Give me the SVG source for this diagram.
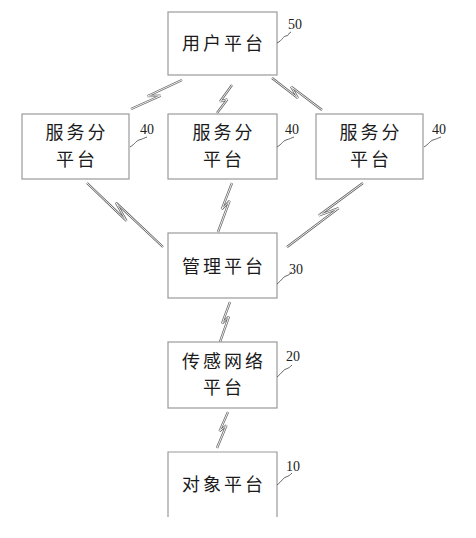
<svg xmlns="http://www.w3.org/2000/svg" width="476" height="538" viewBox="0 0 476 538">
<defs>
<style>
.box{fill:#fff;stroke:#9a9a9a;stroke-width:1.2}
.t{font-family:"Noto Sans CJK SC","Noto Sans CJK JP",serif;font-size:18px;fill:#1a1a1a;text-anchor:middle;letter-spacing:3px}
.n{font-family:"Liberation Serif",serif;font-size:14px;fill:#222}
.lead{fill:none;stroke:#555;stroke-width:0.9}
.bo{fill:none;stroke:#666;stroke-width:2.3;stroke-linejoin:miter;stroke-miterlimit:3}
.bi{fill:none;stroke:#fff;stroke-width:0.9;stroke-linejoin:miter;stroke-miterlimit:3}
</style>
<path id="z1" d="M131 109 L160.5 95.7 L147.4 96.2 L182 80"/>
<path id="z2" d="M217 113 L227.4 99.3 L220.1 101.5 L232 85"/>
<path id="z3" d="M272 78 L297.9 98.1 L291.1 86.7 L322 110"/>
<path id="z4" d="M87 183 L126.5 220.9 L115.9 202.7 L163 247"/>
<path id="z5" d="M232 183 L221.8 209.2 L229.6 200.9 L218 232"/>
<path id="z6" d="M363 183 L318.9 215.5 L338.7 208.1 L287 247"/>
<path id="z7" d="M230 302 L222.1 323.4 L228.9 316.6 L220 342"/>
<path id="z8" d="M228 412 L219.6 431.1 L226.5 425.3 L217 448"/>
</defs>
<rect width="476" height="538" fill="#fff"/>
<g id="connectors">
<use href="#z1" class="bo"/><use href="#z1" class="bi"/>
<use href="#z2" class="bo"/><use href="#z2" class="bi"/>
<use href="#z3" class="bo"/><use href="#z3" class="bi"/>
<use href="#z4" class="bo"/><use href="#z4" class="bi"/>
<use href="#z5" class="bo"/><use href="#z5" class="bi"/>
<use href="#z6" class="bo"/><use href="#z6" class="bi"/>
<use href="#z7" class="bo"/><use href="#z7" class="bi"/>
<use href="#z8" class="bo"/><use href="#z8" class="bi"/>
</g>
<g id="user">
<rect class="box" x="168" y="12" width="109" height="63"/>
<text class="t" x="224" y="50">用户平台</text>
<path class="lead" d="M277 43 C283 40 283 36 286 36 C289 36 288 33 291 32"/>
<text class="n" x="288" y="29">50</text>
</g>
<g id="service1">
<rect class="box" x="22" y="114" width="107" height="65"/>
<text class="t" x="77" y="139">服务分</text>
<text class="t" x="77" y="166">平台</text>
<path class="lead" d="M130 147 C135 144 136 141 139 140 C143 139 144 138 147 137"/>
<text class="n" x="140" y="134">40</text>
</g>
<g id="service2">
<rect class="box" x="168" y="114" width="109" height="65"/>
<text class="t" x="224" y="139">服务分</text>
<text class="t" x="224" y="166">平台</text>
<path class="lead" d="M277 147 C282 144 283 141 286 140 C290 139 291 138 294 137"/>
<text class="n" x="285" y="134">40</text>
</g>
<g id="service3">
<rect class="box" x="316" y="114" width="107" height="65"/>
<text class="t" x="371" y="139">服务分</text>
<text class="t" x="371" y="166">平台</text>
<path class="lead" d="M424 147 C429 144 430 141 433 140 C437 139 438 138 441 137"/>
<text class="n" x="432" y="134">40</text>
</g>
<g id="management">
<rect class="box" x="168" y="233" width="109" height="65"/>
<text class="t" x="224" y="273">管理平台</text>
<path class="lead" d="M277 284 C282 280 283 277 286 276 C289 275 290 274 292 272"/>
<text class="n" x="289" y="274">30</text>
</g>
<g id="sensor">
<rect class="box" x="168" y="342" width="109" height="66"/>
<text class="t" x="224" y="368">传感网络</text>
<text class="t" x="224" y="394">平台</text>
<path class="lead" d="M277 377 C282 373 283 370 286 369 C289 368 290 367 292 365"/>
<text class="n" x="286" y="361">20</text>
</g>
<g id="object">
<path class="box" d="M168 517 V452 H277 V517"/>
<text class="t" x="224" y="491">对象平台</text>
<path class="lead" d="M277 485 C282 481 283 478 286 477 C289 476 290 475 292 473"/>
<text class="n" x="286" y="471">10</text>
</g>
</svg>
